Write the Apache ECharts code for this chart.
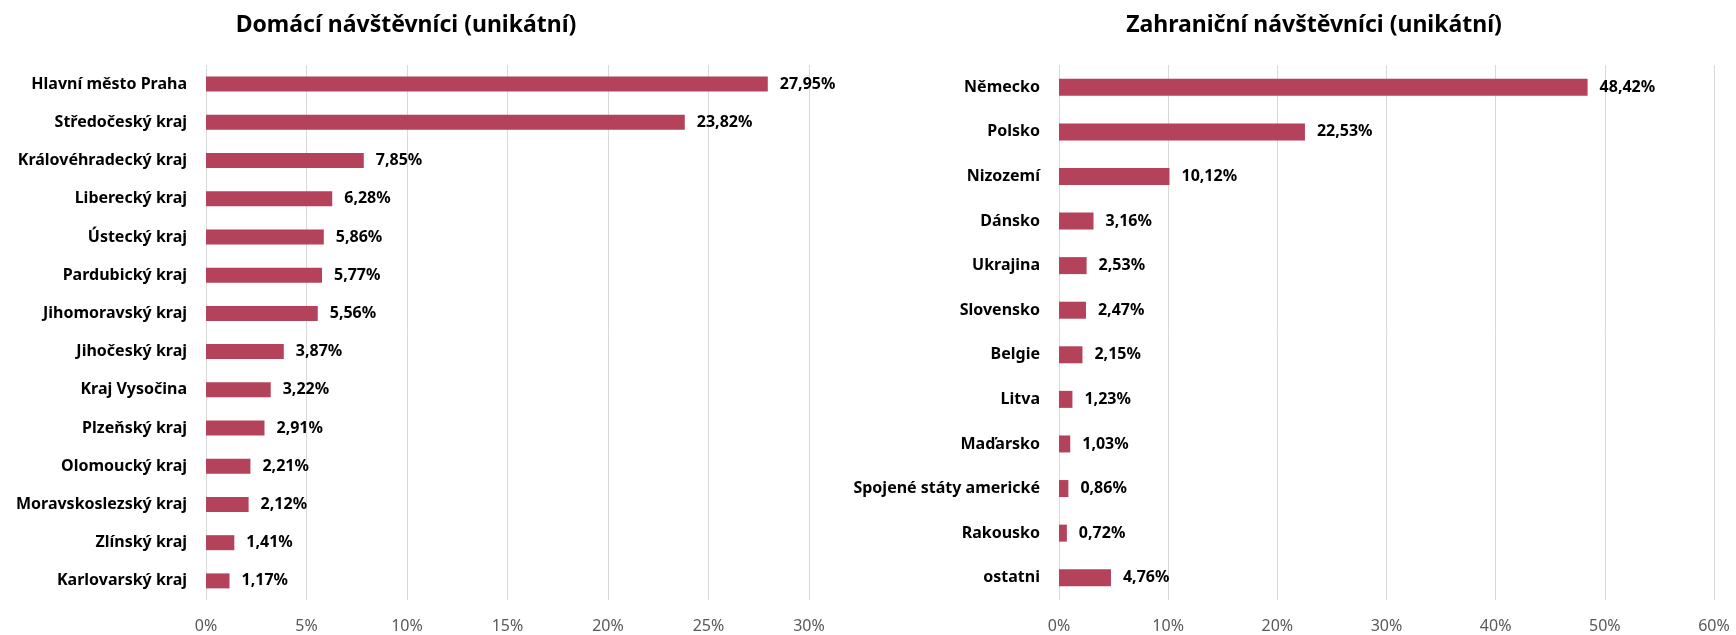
<!DOCTYPE html>
<html>
<head>
<meta charset="utf-8">
<script src="https://cdn.jsdelivr.net/npm/echarts@6/dist/echarts.min.js"></script>
<style>
  html, body { margin: 0; padding: 0; background: #fff; }
  #chart { width: 1736px; height: 635px; }
</style>
</head>
<body>
<div id="chart"></div>
<script>
// domácí návštěvníci
const domaciKraje = ['Hlavní město Praha', 'Středočeský kraj', 'Královéhradecký kraj', 'Liberecký kraj',
  'Ústecký kraj', 'Pardubický kraj', 'Jihomoravský kraj', 'Jihočeský kraj', 'Kraj Vysočina',
  'Plzeňský kraj', 'Olomoucký kraj', 'Moravskoslezský kraj', 'Zlínský kraj', 'Karlovarský kraj']
const domaciHodnoty = [27.95, 23.82, 7.85, 6.28, 5.86, 5.77, 5.56, 3.87, 3.22, 2.91, 2.21, 2.12, 1.41, 1.17]

// zahraniční návštěvníci
const zahranicniZeme = ['Německo', 'Polsko', 'Nizozemí', 'Dánsko', 'Ukrajina', 'Slovensko', 'Belgie',
  'Litva', 'Maďarsko', 'Spojené státy americké', 'Rakousko', 'ostatni']
const zahranicniHodnoty = [48.42, 22.53, 10.12, 3.16, 2.53, 2.47, 2.15, 1.23, 1.03, 0.86, 0.72, 4.76]

const barva = '#b4425b'
const font = 'Noto Sans'

function pct(v) {
  return v.toFixed(2).replace('.', ',') + '%'
}

function xAxis(gridIndex, max, interval) {
  return {
    type: 'value',
    gridIndex: gridIndex,
    min: 0,
    max: max,
    interval: interval,
    axisLine: { show: false },
    axisTick: { show: false },
    axisLabel: { color: '#595959', fontFamily: font, fontSize: 16, margin: 18, formatter: '{value}%' },
    splitLine: { lineStyle: { color: '#d9d9d9', width: 1 } }
  }
}

function yAxis(gridIndex, data) {
  return {
    type: 'category',
    gridIndex: gridIndex,
    data: data,
    inverse: true,
    axisLine: { show: false },
    axisTick: { show: false },
    axisLabel: { color: '#000', fontFamily: font, fontSize: 16, fontWeight: 'bold', margin: 19 }
  }
}

function serie(index, data, barWidth) {
  return {
    type: 'bar',
    xAxisIndex: index,
    yAxisIndex: index,
    data: data,
    barWidth: barWidth,
    itemStyle: { color: barva },
    label: {
      show: true,
      position: 'right',
      distance: 12,
      color: '#000',
      fontFamily: font,
      fontSize: 16,
      fontWeight: 'bold',
      formatter: p => pct(p.value)
    }
  }
}

const myChart = echarts.init(document.querySelector('#chart'))
const option = {
  animation: false,
  title: [{
    text: 'Domácí návštěvníci (unikátní)',
    left: 401,
    top: 9,
    textAlign: 'center',
    textStyle: { fontFamily: font, fontSize: 23, fontWeight: 'bold', color: '#000' }
  }, {
    text: 'Zahraniční návštěvníci (unikátní)',
    left: 1309,
    top: 9,
    textAlign: 'center',
    textStyle: { fontFamily: font, fontSize: 23, fontWeight: 'bold', color: '#000' }
  }],
  grid: [
    { left: 206, top: 65, width: 603, height: 535 },
    { left: 1059, top: 65, width: 655, height: 535 }
  ],
  xAxis: [xAxis(0, 30, 5), xAxis(1, 60, 10)],
  yAxis: [yAxis(0, domaciKraje), yAxis(1, zahranicniZeme)],
  series: [serie(0, domaciHodnoty, 15), serie(1, zahranicniHodnoty, 17)]
}
myChart.setOption(option)
</script>
</body>
</html>
